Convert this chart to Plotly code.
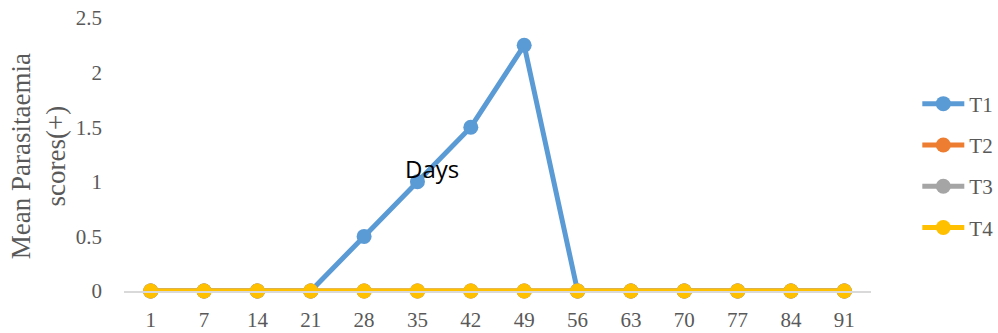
import plotly.graph_objects as go

days = ["1", "7", "14", "21", "28", "35", "42", "49", "56", "63", "70", "77", "84", "91"]
t1 = [0, 0, 0, 0, 0.5, 1, 1.5, 2.25, 0, 0, 0, 0, 0, 0]
t2 = [0, 0, 0, 0, 0, 0, 0, 0, 0, 0, 0, 0, 0, 0]
t3 = [0, 0, 0, 0, 0, 0, 0, 0, 0, 0, 0, 0, 0, 0]
t4 = [0, 0, 0, 0, 0, 0, 0, 0, 0, 0, 0, 0, 0, 0]
series_names = ["T1", "T2", "T3", "T4"]
series_colors = ["#5B9BD5", "#ED7D31", "#A5A5A5", "#FFC000"]

fig = go.Figure()
for name, vals, col in zip(series_names, [t1, t2, t3, t4], series_colors):
    fig.add_trace(go.Scatter(
        x=days, y=vals, name=name, mode="lines+markers",
        line=dict(color=col, width=5),
        marker=dict(color=col, size=15),
        cliponaxis=False, legendgroup=name,
    ))

serif = "Liberation Serif, Times New Roman, serif"
fig.update_layout(
    width=998, height=333,
    margin=dict(l=124, r=127, t=18, b=42, autoexpand=False),
    paper_bgcolor="white", plot_bgcolor="white",
    font=dict(family=serif, color="#595959", size=21),
    showlegend=True,
    legend=dict(
        x=1.062, xanchor="left", y=0.76, yanchor="top",
        font=dict(family=serif, size=21, color="#595959"),
        tracegroupgap=11, itemwidth=42, bgcolor="rgba(0,0,0,0)",
    ),
    xaxis=dict(
        type="category", range=[-0.5, 13.5], showgrid=False, zeroline=False,
        showline=True, linecolor="#D9D9D9", linewidth=1.5, automargin=False,
        ticks="", tickfont=dict(size=21), ticklabelstandoff=9,
    ),
    yaxis=dict(
        range=[0, 2.5], dtick=0.5, showgrid=False, zeroline=False,
        showline=False, ticks="", tickfont=dict(size=21), automargin=False,
        ticklabelstandoff=21,
    ),
    annotations=[
        dict(text="Mean Parasitaemia<br>scores(+)", xref="paper", yref="paper",
             x=-0.115, y=0.494, xanchor="center", yanchor="middle",
             textangle=-90, showarrow=False,
             font=dict(family=serif, size=27, color="#595959")),
        dict(text="Days", xref="paper", yref="paper",
             x=0.412, y=0.447, xanchor="center", yanchor="middle",
             showarrow=False,
             font=dict(family="Open Sans, sans-serif", size=24, color="#000000")),
    ],
)

fig.write_html("out.html")
